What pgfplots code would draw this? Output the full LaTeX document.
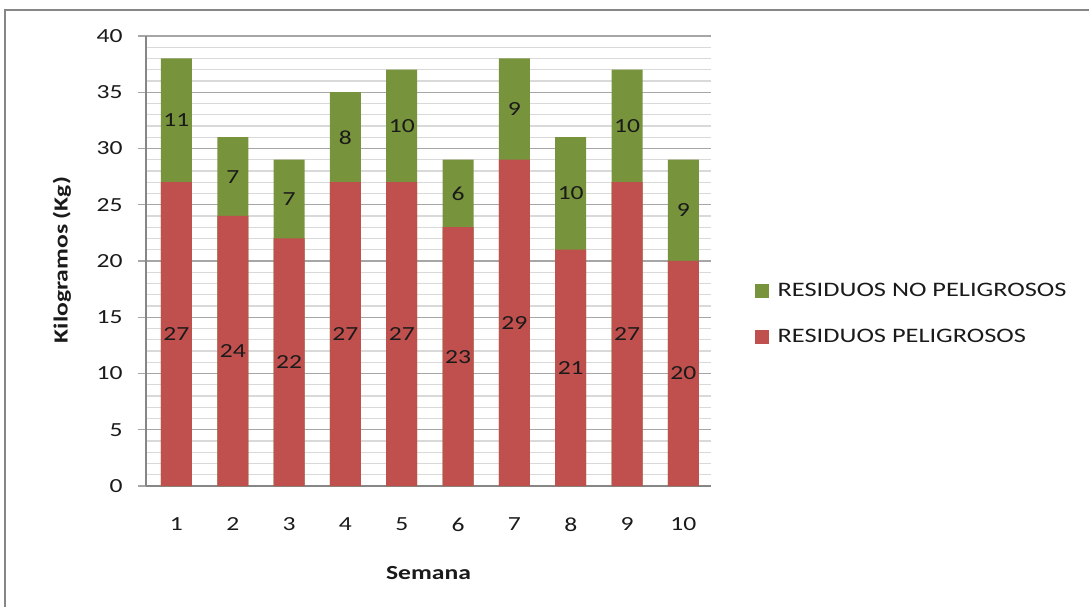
\documentclass[border=0pt]{standalone}
\usepackage{fontspec}
\setmainfont{Carlito}[FakeStretch=1.28]
\usepackage{pgfplots}
\usepackage{pgfplotstable}
\pgfplotsset{compat=1.18}
\definecolor{verde}{HTML}{77933C}
\definecolor{rojo}{HTML}{C0504D}
\definecolor{axgray}{HTML}{868686}
\definecolor{majgray}{HTML}{A6A6A6}
\definecolor{mingray}{HTML}{D9D9D9}
\definecolor{txt}{HTML}{1A1A1A}
\pgfplotstableread{
w r g
1 27 11
2 24 7
3 22 7
4 27 8
5 27 10
6 23 6
7 29 9
8 21 10
9 27 10
10 20 9
}\datos
\newcommand{\fnt}{\fontsize{20bp}{24bp}\selectfont}
\begin{document}
\begin{tikzpicture}
\useasboundingbox (0,0) rectangle (1089bp,607bp);
\draw[draw=axgray, line width=1.5bp] (5bp,-10bp) -- (5bp,597bp) -- (1100bp,597bp);
\begin{axis}[
  at={(146bp,121bp)}, anchor=south west,
  width=565bp, height=450bp, scale only axis,
  xmin=0.46, xmax=10.49, ymin=0, ymax=40,
  axis x line=bottom, axis y line=left,
  axis line style={-, draw=axgray, line width=1.5bp},
  /pgf/number format/assume math mode=true,
  xtick={1,...,10}, xtick style={draw=none},
  ytick={0,5,...,40}, minor ytick={1,...,39},
  ymajorgrids, yminorgrids,
  major grid style={draw=majgray, line width=1.2bp},
  minor grid style={draw=mingray, line width=1.2bp},
  ytick style={draw=majgray, line width=1.2bp},
  tick align=outside, major tick length=8bp, minor tick length=0pt,
  tick label style={font=\fnt, text=txt},
  xticklabel style={yshift=-20bp},
  yticklabel style={xshift=-12bp},
  xlabel={\bfseries Semana}, ylabel={\bfseries Kilogramos (Kg)},
  every axis x label/.style={at={(axis description cs:0.5,-0.1933)}, anchor=center, font=\fnt, text=txt},
  every axis y label/.style={at={(axis description cs:-0.1487,0.502)}, rotate=90, anchor=center, font=\fnt, text=txt},
  legend style={draw=none, fill=none, at={(1.078,0.383)}, anchor=west, inner sep=0pt, row sep=27bp, font=\fontsize{20.6bp}{24bp}\selectfont, text=txt, cells={anchor=west}, /tikz/every odd column/.append style={column sep=7bp}},
  clip=false,
]
\addplot[ybar, bar width=31bp, bar shift=0pt, fill=verde, draw=none, forget plot] table[x=w, y expr=\thisrow{r}+\thisrow{g}] {\datos};
\addplot[ybar, bar width=31bp, bar shift=0pt, fill=rojo, draw=none, forget plot] table[x=w, y=r] {\datos};
\addplot[draw=none, mark=none, nodes near coords, point meta=explicit, nodes near coords align=center, every node near coord/.append style={font=\fnt, text=txt}, forget plot] table[x=w, y expr=\thisrow{r}/2, meta=r] {\datos};
\addplot[draw=none, mark=none, nodes near coords, point meta=explicit, nodes near coords align=center, every node near coord/.append style={font=\fnt, text=txt}, forget plot] table[x=w, y expr=\thisrow{r}+\thisrow{g}/2, meta=g] {\datos};
\addlegendimage{legend image code/.code={\fill[verde] (0bp,-6.5bp) rectangle (13bp,6.5bp);}}
\addlegendentry{RESIDUOS NO PELIGROSOS}
\addlegendimage{legend image code/.code={\fill[rojo] (0bp,-6.5bp) rectangle (13bp,6.5bp);}}
\addlegendentry{RESIDUOS PELIGROSOS}
\end{axis}
\end{tikzpicture}
\end{document}
